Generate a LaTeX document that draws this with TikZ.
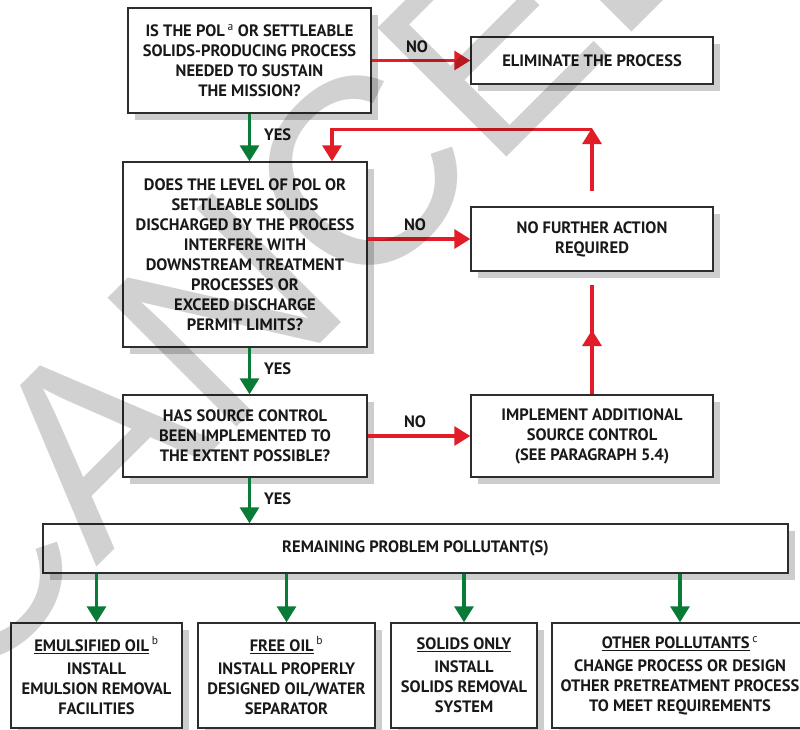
\documentclass[tikz,border=0pt]{standalone}
\usepackage{fontspec}
\setmainfont{PT Sans}
\newfontfamily\wmfont{Liberation Sans}
\usetikzlibrary{arrows.meta,shadows}
\definecolor{ared}{RGB}{225,30,40}
\definecolor{agreen}{RGB}{10,122,55}
\definecolor{bord}{RGB}{45,45,45}
\definecolor{shad}{RGB}{205,205,205}
\newcommand\boxfont{\fontsize{16.5}{20}\selectfont\bfseries}
\newcommand\supnote[1]{\,\textsuperscript{\mdseries #1}}
\tikzset{
  box/.style={draw=bord, line width=1.4pt, fill=white, align=center, inner sep=0pt,
    font=\boxfont, text=black!90,
    drop shadow={shadow xshift=7pt, shadow yshift=-7pt, fill=shad, opacity=1, draw=none}},
  garrow/.style={draw=agreen, line width=3.2pt, -{Triangle[width=19pt,length=16pt]}},
  rarrow/.style={draw=ared, line width=3.2pt, -{Triangle[width=19pt,length=16pt]}},
  rline/.style={draw=ared, line width=3.2pt},
  lbl/.style={font=\boxfont, inner sep=0pt, text=black!90},
  wm/.style={font=\wmfont\fontsize{265}{265}\selectfont, inner sep=0pt, anchor=base west,
    rotate=45, text=black, text opacity=0.18},
}
\begin{document}
\begin{tikzpicture}[x=1pt,y=-1pt]
\path[use as bounding box, clip] (0,0) rectangle (800,729);

% boxes
\node[box, minimum width=243pt, minimum height=105pt] (q1) at (249.5,60.5)
  {IS THE POL\supnote{a} OR SETTLEABLE\\SOLIDS-PRODUCING PROCESS\\NEEDED TO SUSTAIN\\THE MISSION?};
\node[box, minimum width=242pt, minimum height=47pt] (elim) at (592,60.5)
  {ELIMINATE THE PROCESS};
\node[box, minimum width=244pt, minimum height=185pt] (q2) at (245,254.5)
  {DOES THE LEVEL OF POL OR\\SETTLEABLE SOLIDS\\DISCHARGED BY THE PROCESS\\INTERFERE WITH\\DOWNSTREAM TREATMENT\\PROCESSES OR\\EXCEED DISCHARGE\\PERMIT LIMITS?};
\node[box, minimum width=242pt, minimum height=64pt] (nfa) at (592,239)
  {NO FURTHER ACTION\\REQUIRED};
\node[box, minimum width=244pt, minimum height=82pt] (q3) at (245,436)
  {HAS SOURCE CONTROL\\BEEN IMPLEMENTED TO\\THE EXTENT POSSIBLE?};
\node[box, minimum width=242pt, minimum height=82pt] (impl) at (592,436)
  {IMPLEMENT ADDITIONAL\\SOURCE CONTROL\\(SEE PARAGRAPH 5.4)};
\node[box, minimum width=745pt, minimum height=49pt] (rem) at (415.5,548.5)
  {REMAINING PROBLEM POLLUTANT(S)};
\node[box, minimum width=171pt, minimum height=105pt] (ba) at (96.5,675.5)
  {\underline{EMULSIFIED OIL}\supnote{b}\\[3pt]INSTALL\\EMULSION REMOVAL\\FACILITIES};
\node[box, minimum width=177pt, minimum height=105pt] (bb) at (286.5,675.5)
  {\underline{FREE OIL}\supnote{b}\\[3pt]INSTALL PROPERLY\\DESIGNED OIL/WATER\\SEPARATOR};
\node[box, minimum width=146pt, minimum height=105pt] (bc) at (464,675.5)
  {\underline{SOLIDS ONLY}\\[3pt]INSTALL\\SOLIDS REMOVAL\\SYSTEM};
\node[box, minimum width=256pt, minimum height=105pt] (bd) at (680,675.5)
  {\underline{OTHER POLLUTANTS}\supnote{c}\\[3pt]CHANGE PROCESS OR DESIGN\\OTHER PRETREATMENT PROCESS\\TO MEET REQUIREMENTS};

% YES arrows
\draw[garrow] (q1.south) -- (q1.south |- q2.north)
  node[lbl, pos=0.45, anchor=west, xshift=13pt] {YES};
\draw[garrow] (q2.south -| q1.south) -- (q3.north -| q1.south)
  node[lbl, pos=0.45, anchor=west, xshift=13pt] {YES};
\draw[garrow] (q3.south -| q1.south) -- (rem.north -| q1.south)
  node[lbl, pos=0.45, anchor=west, xshift=13pt] {YES};

% NO arrows
\draw[rarrow] (q1.east) -- (elim.west)
  node[lbl, midway, xshift=-4pt, yshift=13.5pt] {NO};
\draw[rarrow] (q2.east |- nfa.west) -- (nfa.west)
  node[lbl, midway, xshift=-4pt, yshift=14pt] {NO};
\draw[rarrow] (q3.east) -- (impl.west)
  node[lbl, midway, xshift=-4pt, yshift=14pt] {NO};

% feedback loop
\coordinate (lowtop) at (592,285);
\coordinate (lowtip) at (592,330);
\coordinate (upbot) at (592,191);
\coordinate (corner) at (592,128);
\draw[rline] (impl.north) -- (lowtop);
\draw[rarrow] (impl.north) -- (lowtip);
\draw[rarrow] (upbot) -- (corner);
\draw[rarrow] ([yshift=-1.6pt]corner) -| ([xshift=87pt]q2.north);

% pollutant arrows
\draw[garrow] (rem.south -| ba.north) -- (ba.north);
\draw[garrow] (rem.south -| bb.north) -- (bb.north);
\draw[garrow] (rem.south -| bc.north) -- (bc.north);
\draw[garrow] (rem.south -| bd.north) -- (bd.north);

% watermark
\node[wm] (wmark) at (-39,703) {CANCELLED};
\end{tikzpicture}
\end{document}
